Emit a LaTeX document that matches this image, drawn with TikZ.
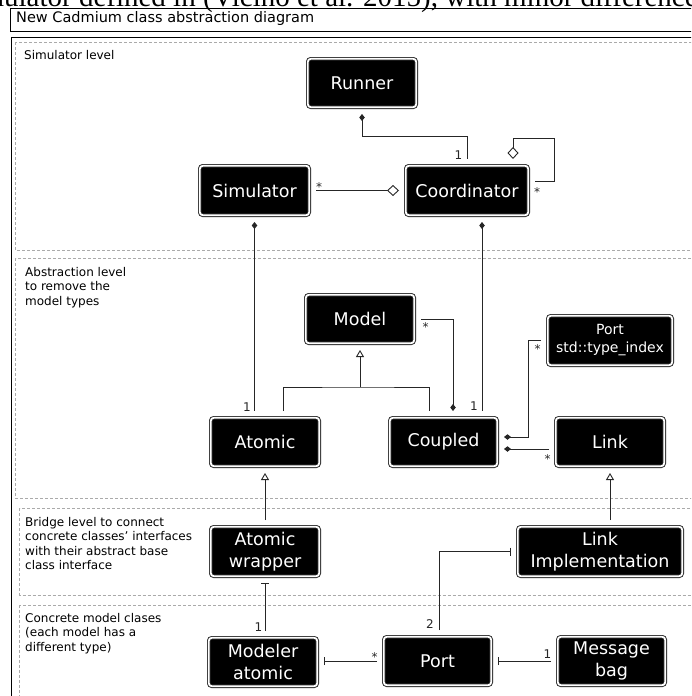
\documentclass[tikz,border=0pt]{standalone}
\usepackage{fontspec}
\setmainfont{DejaVu Sans}
\newfontfamily\serifnote{Liberation Serif}
\usetikzlibrary{arrows.meta}
\definecolor{dashgray}{HTML}{AAAAAA}
\tikzset{
  cdiam/.tip={Diamond[length=7pt,width=5.5pt]},
  odiam/.tip={Diamond[fill=white,length=12pt,width=11pt]},
  gtri/.tip={Triangle[fill=white,length=7pt,width=8pt]},
  tbar/.tip={Bar[width=8pt]},
  cls/.style={draw=black!85, line width=0.9pt, double=white, double distance=1.8pt,
    fill=black, text=white, rounded corners=3pt, inner sep=0pt, outer sep=6.8pt,
    minimum width=108.4pt, minimum height=48.4pt, align=center,
    font=\fontsize{17.5}{22.5}\selectfont},
  conn/.style={draw=black!85, line width=0.9pt},
  region/.style={draw=dashgray, line width=0.8pt, dash pattern=on 3pt off 2pt},
  regtxt/.style={inner sep=0pt, align=left, font=\fontsize{12}{14.5}\selectfont},
  lbl/.style={anchor=base, inner sep=0pt, text=black!85, font=\fontsize{12}{14}\selectfont},
}
\begin{document}
\begin{tikzpicture}[x=1pt,y=-1pt]
\useasboundingbox (0,0) rectangle (691,696);
\clip (0,0) rectangle (691,696);
\fill[white] (0,0) rectangle (691,696);

% clipped line of surrounding text
\node[anchor=base west, inner sep=0pt, font=\serifnote\fontsize{29}{30}\selectfont] (topline) at (-38,6.5)
  {simulator defined in (Vicino et al. 2015), with minor differences};

% title and frame
\draw[line width=0.8pt] (10,8) rectangle (700,31);
\node[anchor=base west, inner sep=0pt, font=\fontsize{14.5}{17}\selectfont] (title) at (16,23)
  {New Cadmium class abstraction diagram};
\draw[line width=0.8pt] (11,37) rectangle (700,720);

% regions
\draw[region] (15.5,42) rectangle (700,250.5);
\draw[region] (15.5,258) rectangle (700,498.5);
\draw[region] (19.5,508) rectangle (700,595);
\draw[region] (19.5,605) rectangle (700,720);

\node[regtxt, anchor=base west] (t1) at (24,59) {Simulator level};
\node[regtxt, anchor=north west] (t2) at (25,267) {Abstraction level\\to remove the\\model types};
\node[regtxt, anchor=north west] (t3) at (25,517) {Bridge level to connect\\concrete classes' interfaces\\with their abstract base\\class interface};
\node[regtxt, anchor=north west] (t4) at (25,613) {Concrete model clases\\(each model has a\\different type)};

% classes
\node[cls] (runner) at (362,83) {Runner};
\node[cls, minimum width=109.4pt, minimum height=49.4pt] (simulator) at (254.5,190.5) {Simulator};
\node[cls, minimum width=122.4pt, minimum height=49.4pt] (coordinator) at (467,190.5) {Coordinator};
\node[cls] (model) at (360,319) {Model};
\node[cls, minimum width=124.4pt, minimum height=49.4pt, font=\fontsize{14}{18}\selectfont] (porttype) at (610,340.5) {Port\\std::type\_index};
\node[cls] (atomic) at (265,442) {Atomic};
\node[cls, minimum width=107.4pt] (coupled) at (443.5,442) {Coupled};
\node[cls] (link) at (610,442) {Link};
\node[cls, minimum height=49.4pt] (wrapper) at (265,551.5) {Atomic\\wrapper};
\node[cls, minimum width=164.4pt, minimum height=49.4pt] (linkimpl) at (600,551.5) {Link\\Implementation};
\node[cls] (modeler) at (263,662) {Modeler\\atomic};
\node[cls, minimum width=107.4pt] (port) at (437.5,661) {Port};
\node[cls, minimum width=107.4pt] (msgbag) at (611.5,661) {Message\\bag};

% connectors
\coordinate (loopc) at (554,138);
\coordinate (genj) at (360,387);
\draw[conn, cdiam-] (runner.south) -- ++(0,22) -| (coordinator.north);
\draw[conn, -odiam] (simulator.east) -- (coordinator.west);
\draw[conn, -odiam] ([yshift=9.5pt]coordinator.east) -| (loopc) -| ([xshift=46pt]coordinator.north);
\draw[conn, cdiam-] (simulator.south) -- (simulator.south |- atomic.north);
\draw[conn, cdiam-] ([xshift=15pt]coordinator.south) -- ([xshift=15pt]coordinator.south |- coupled.north);
\draw[conn] ([xshift=18pt]atomic.north) |- (genj) -| ([xshift=-14.5pt]coupled.north);
\draw[conn, -gtri] (genj) -- (model.south);
\draw[conn, -cdiam] (model.east) -| ([xshift=9.5pt]coupled.north);
\draw[conn, -cdiam] (porttype.west) -- ++(-13,0) |- ([yshift=5pt]coupled.east);
\draw[conn, -cdiam] ([yshift=-7pt]link.west) -- ([yshift=-7pt]coupled.east);
\draw[conn, -gtri] ([xshift=10pt]linkimpl.north) -- ([xshift=10pt]linkimpl.north |- link.south);
\draw[conn, -gtri] (wrapper.north) -- (atomic.south);
\draw[conn, -tbar] (wrapper.south |- modeler.north) -- (wrapper.south);
\draw[conn, -tbar] (port.west) -- (port.west -| modeler.east);
\draw[conn, -tbar] (msgbag.west) -- (port.east);
\draw[conn, -tbar] ([xshift=1.5pt]port.north) |- (linkimpl.west);

% multiplicities
\node[lbl] (m1) at (458.5,159.5) {1};
\node[lbl] (m2) at (319,191.5) {*};
\node[lbl] (m3) at (537,196) {*};
\node[lbl] (m4) at (247,411) {1};
\node[lbl] (m5) at (425.5,331.5) {*};
\node[lbl] (m6) at (474,410) {1};
\node[lbl] (m7) at (537.5,353.5) {*};
\node[lbl] (m8) at (547.5,463) {*};
\node[lbl] (m9) at (258.5,631.5) {1};
\node[lbl] (m10) at (374.5,661.5) {*};
\node[lbl] (m11) at (547.5,658) {1};
\node[lbl] (m12) at (430,628) {2};
\end{tikzpicture}
\end{document}
